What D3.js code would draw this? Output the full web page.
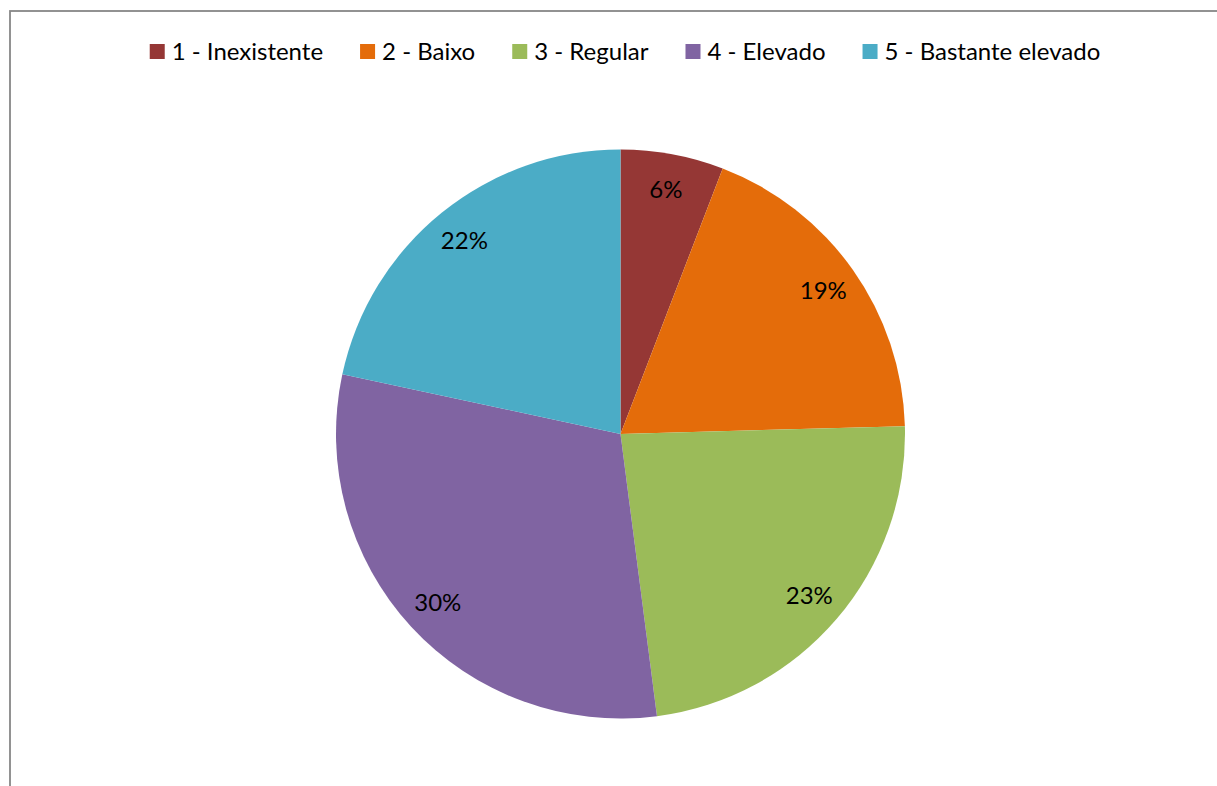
<!DOCTYPE html>
<html>
<head>
<meta charset="utf-8">
<script src="https://cdn.jsdelivr.net/npm/d3@7"></script>
<style>
  html, body { margin: 0; padding: 0; background: #ffffff; }
  svg { display: block; }
</style>
</head>
<body>
<svg id="chart" width="1217" height="786"></svg>
<script>
// Response counts per rating level
const categories = ["1 - Inexistente", "2 - Baixo", "3 - Regular", "4 - Elevado", "5 - Bastante elevado"];
const counts = [10, 32, 40, 52, 37];
const colors = ["#953735", "#E46C0A", "#9BBB59", "#8064A2", "#4BACC6"];

const W = 1217, H = 786;
const FONT = "Lato, 'Open Sans', sans-serif";
const svg = d3.select("#chart");

// Chart frame (only the top and left edges fall inside the view)
svg.append("rect")
  .attr("x", 10).attr("y", 11)
  .attr("width", W + 50).attr("height", H + 50)
  .attr("fill", "none")
  .attr("stroke", "#878787")
  .attr("stroke-width", 1.8);

// Pie
const cx = 620.5, cy = 434, radius = 284.5;
const total = d3.sum(counts);
const data = categories.map((c, i) => ({ name: c, value: counts[i], color: colors[i] }));

const pie = d3.pie().value(d => d.value).sort(null);
const arc = d3.arc().innerRadius(0).outerRadius(radius);
const labelArc = d3.arc().innerRadius(radius * 0.873).outerRadius(radius * 0.873);
const pct = d3.format(".0%");

const g = svg.append("g").attr("transform", `translate(${cx},${cy})`);
const arcs = pie(data);

g.selectAll("path.slice")
  .data(arcs)
  .join("path")
  .attr("class", "slice")
  .attr("d", arc)
  .attr("fill", d => d.data.color);

g.selectAll("text.pct")
  .data(arcs)
  .join("text")
  .attr("class", "pct")
  .attr("transform", d => `translate(${labelArc.centroid(d)})`)
  .attr("text-anchor", "middle")
  .attr("dy", "0.36em")
  .attr("font-family", FONT)
  .attr("font-size", 24)
  .attr("fill", "#000")
  .text(d => pct(d.data.value / total));

// Legend, laid out in one centred row
const legend = svg.append("g");
const sw = 15, textGap = 7, itemGap = 37, legendCenter = 625, legendMid = 51.5;
const items = legend.selectAll("g.item")
  .data(data)
  .join("g")
  .attr("class", "item");

items.append("rect")
  .attr("width", sw).attr("height", sw)
  .attr("y", legendMid - sw / 2)
  .attr("fill", d => d.color);

items.append("text")
  .attr("x", sw + textGap)
  .attr("y", legendMid)
  .attr("dy", "0.36em")
  .attr("font-family", FONT)
  .attr("font-size", 24)
  .attr("fill", "#000")
  .text(d => d.name);

const widths = [];
items.each(function () {
  widths.push(sw + textGap + d3.select(this).select("text").node().getComputedTextLength());
});
const totalW = d3.sum(widths) + itemGap * (widths.length - 1);
let xPos = legendCenter - totalW / 2;
items.each(function (d, i) {
  d3.select(this).attr("transform", `translate(${xPos},0)`);
  xPos += widths[i] + itemGap;
});
</script>
</body>
</html>
